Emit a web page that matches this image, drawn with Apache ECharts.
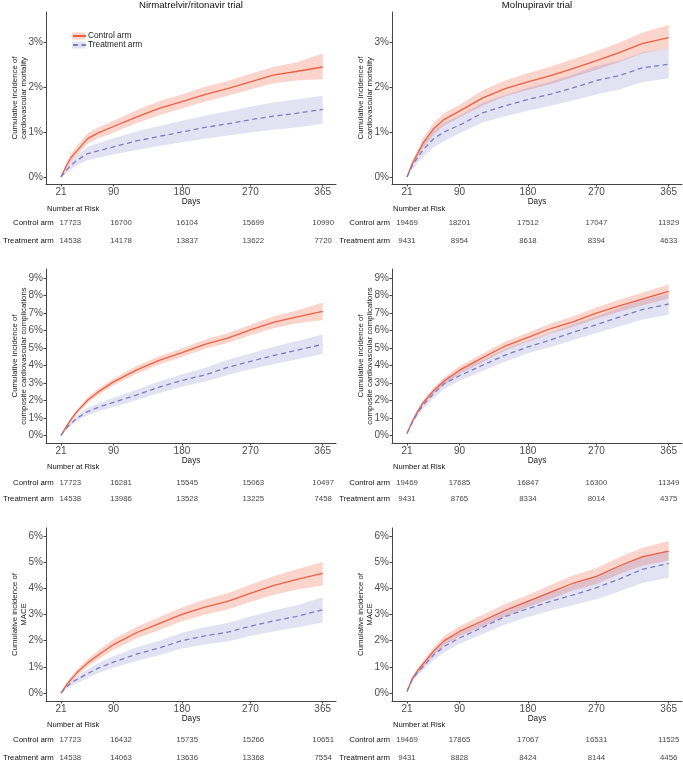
<!DOCTYPE html>
<html>
<head>
<meta charset="utf-8">
<script src="https://cdn.jsdelivr.net/npm/echarts@6/dist/echarts.min.js"></script>
<style>
html,body{margin:0;padding:0;background:#fff;}
#chart{width:683px;height:768px;}
</style>
</head>
<body>
<div id="chart"></div>
<script>
// ---------- data ----------
const days = [21, 28, 35, 42, 56, 70, 90, 120, 150, 180, 210, 240, 270, 300, 330, 365];
const xTicks = [21, 90, 180, 270, 365];
const riskDays = [21, 90, 180, 270, 365];
const yTicksCvm = [0, 1, 2, 3];
const yTicksComp = [0, 1, 2, 3, 4, 5, 6, 7, 8, 9];
const yTicksMace = [0, 1, 2, 3, 4, 5, 6];
const armNames = ['Control arm', 'Treatment arm'];
const trialTitles = ['Nirmatrelvir/ritonavir trial', 'Molnupiravir trial'];

// Nirmatrelvir/ritonavir — cardiovascular mortality (%)
const nirCvmCtrl   = [0, 0.25, 0.45, 0.58, 0.85, 0.98, 1.12, 1.33, 1.52, 1.67, 1.83, 1.96, 2.11, 2.26, 2.34, 2.44];
const nirCvmCtrlLo = [0, 0.18, 0.36, 0.48, 0.74, 0.86, 0.99, 1.19, 1.37, 1.52, 1.67, 1.80, 1.94, 2.08, 2.14, 2.17];
const nirCvmCtrlHi = [0, 0.32, 0.54, 0.69, 0.97, 1.10, 1.25, 1.48, 1.68, 1.83, 2.00, 2.13, 2.29, 2.44, 2.54, 2.74];
const nirCvmTrt    = [0, 0.15, 0.27, 0.37, 0.52, 0.58, 0.67, 0.80, 0.90, 1.00, 1.10, 1.18, 1.27, 1.35, 1.41, 1.50];
const nirCvmTrtLo  = [0, 0.08, 0.18, 0.26, 0.38, 0.43, 0.50, 0.60, 0.69, 0.77, 0.85, 0.92, 0.99, 1.05, 1.10, 1.18];
const nirCvmTrtHi  = [0, 0.22, 0.37, 0.49, 0.67, 0.75, 0.86, 1.01, 1.13, 1.25, 1.36, 1.46, 1.56, 1.65, 1.72, 1.80];

// Molnupiravir — cardiovascular mortality (%)
const molCvmCtrl   = [0, 0.30, 0.52, 0.75, 1.07, 1.28, 1.46, 1.75, 1.96, 2.11, 2.25, 2.41, 2.58, 2.76, 2.96, 3.09];
const molCvmCtrlLo = [0, 0.24, 0.44, 0.64, 0.94, 1.14, 1.32, 1.58, 1.79, 1.93, 2.06, 2.22, 2.38, 2.55, 2.74, 2.85];
const molCvmCtrlHi = [0, 0.36, 0.60, 0.86, 1.20, 1.42, 1.60, 1.92, 2.14, 2.30, 2.45, 2.62, 2.79, 2.98, 3.20, 3.37];
const molCvmTrt    = [0, 0.25, 0.43, 0.60, 0.85, 1.00, 1.15, 1.42, 1.58, 1.72, 1.84, 1.98, 2.14, 2.25, 2.42, 2.50];
const molCvmTrtLo  = [0, 0.17, 0.31, 0.44, 0.66, 0.80, 0.97, 1.21, 1.35, 1.47, 1.58, 1.70, 1.83, 1.94, 2.10, 2.19];
const molCvmTrtHi  = [0, 0.33, 0.55, 0.76, 1.04, 1.21, 1.36, 1.64, 1.82, 1.98, 2.12, 2.28, 2.46, 2.58, 2.76, 2.85];

// Nirmatrelvir/ritonavir — composite cardiovascular complications (%)
const nirCompCtrl   = [0, 0.50, 0.95, 1.35, 2.00, 2.48, 3.05, 3.72, 4.28, 4.72, 5.20, 5.55, 6.02, 6.45, 6.75, 7.08];
const nirCompCtrlLo = [0, 0.42, 0.84, 1.22, 1.84, 2.30, 2.86, 3.50, 4.05, 4.48, 4.94, 5.27, 5.72, 6.12, 6.38, 6.58];
const nirCompCtrlHi = [0, 0.58, 1.06, 1.48, 2.16, 2.66, 3.24, 3.94, 4.51, 4.96, 5.46, 5.83, 6.32, 6.78, 7.12, 7.58];
const nirCompTrt    = [0, 0.40, 0.72, 0.98, 1.35, 1.60, 1.88, 2.30, 2.75, 3.13, 3.45, 3.88, 4.22, 4.55, 4.85, 5.20];
const nirCompTrtLo  = [0, 0.30, 0.58, 0.81, 1.14, 1.37, 1.62, 2.00, 2.42, 2.77, 3.06, 3.45, 3.77, 4.06, 4.33, 4.64];
const nirCompTrtHi  = [0, 0.50, 0.86, 1.15, 1.56, 1.83, 2.14, 2.60, 3.08, 3.49, 3.84, 4.31, 4.67, 5.04, 5.37, 5.76];

// Molnupiravir — composite cardiovascular complications (%)
const molCompCtrl   = [0.10, 0.80, 1.35, 1.85, 2.55, 3.10, 3.72, 4.42, 5.10, 5.60, 6.10, 6.50, 6.98, 7.40, 7.78, 8.22];
const molCompCtrlLo = [0.10, 0.72, 1.25, 1.72, 2.38, 2.90, 3.50, 4.18, 4.84, 5.34, 5.82, 6.20, 6.66, 7.06, 7.42, 7.82];
const molCompCtrlHi = [0.10, 0.88, 1.45, 1.98, 2.72, 3.30, 3.94, 4.66, 5.36, 5.86, 6.38, 6.80, 7.30, 7.74, 8.14, 8.62];
const molCompTrt    = [0.10, 0.75, 1.28, 1.72, 2.38, 2.95, 3.40, 4.00, 4.58, 5.05, 5.45, 5.90, 6.32, 6.75, 7.18, 7.50];
const molCompTrtLo  = [0.10, 0.62, 1.10, 1.50, 2.12, 2.65, 3.12, 3.68, 4.20, 4.68, 5.04, 5.44, 5.84, 6.22, 6.60, 6.90];
const molCompTrtHi  = [0.10, 0.88, 1.46, 1.94, 2.64, 3.25, 3.68, 4.32, 4.96, 5.42, 5.86, 6.36, 6.80, 7.28, 7.76, 8.08];

// Nirmatrelvir/ritonavir — MACE (%)
const nirMaceCtrl   = [0, 0.30, 0.55, 0.78, 1.15, 1.45, 1.85, 2.30, 2.65, 3.00, 3.28, 3.50, 3.80, 4.10, 4.33, 4.57];
const nirMaceCtrlLo = [0, 0.22, 0.45, 0.66, 1.00, 1.28, 1.65, 2.08, 2.41, 2.74, 2.99, 3.19, 3.47, 3.74, 3.94, 4.10];
const nirMaceCtrlHi = [0, 0.38, 0.65, 0.90, 1.30, 1.62, 2.05, 2.52, 2.89, 3.26, 3.57, 3.81, 4.13, 4.46, 4.72, 5.00];
const nirMaceTrt    = [0, 0.22, 0.40, 0.52, 0.74, 0.95, 1.18, 1.48, 1.72, 2.00, 2.18, 2.32, 2.55, 2.75, 2.92, 3.18];
const nirMaceTrtLo  = [0, 0.14, 0.29, 0.38, 0.57, 0.76, 0.96, 1.22, 1.44, 1.70, 1.85, 1.97, 2.18, 2.35, 2.50, 2.69];
const nirMaceTrtHi  = [0, 0.30, 0.51, 0.66, 0.91, 1.14, 1.40, 1.74, 2.00, 2.30, 2.51, 2.67, 2.92, 3.15, 3.34, 3.66];

// Molnupiravir — MACE (%)
const molMaceCtrl   = [0.06, 0.55, 0.85, 1.10, 1.60, 2.00, 2.35, 2.75, 3.15, 3.50, 3.85, 4.20, 4.45, 4.85, 5.20, 5.42];
const molMaceCtrlLo = [0.06, 0.47, 0.74, 0.98, 1.45, 1.82, 2.17, 2.54, 2.92, 3.28, 3.60, 3.92, 4.16, 4.54, 4.86, 5.06];
const molMaceCtrlHi = [0.06, 0.63, 0.96, 1.22, 1.75, 2.18, 2.55, 2.98, 3.40, 3.74, 4.12, 4.50, 4.76, 5.18, 5.54, 5.80];
const molMaceTrt    = [0.06, 0.52, 0.80, 1.00, 1.45, 1.78, 2.10, 2.50, 2.92, 3.22, 3.50, 3.75, 4.02, 4.35, 4.72, 4.95];
const molMaceTrtLo  = [0.06, 0.44, 0.68, 0.85, 1.26, 1.56, 1.88, 2.24, 2.62, 2.90, 3.15, 3.36, 3.58, 3.88, 4.20, 4.40];
const molMaceTrtHi  = [0.06, 0.60, 0.92, 1.15, 1.64, 2.00, 2.32, 2.76, 3.22, 3.54, 3.85, 4.14, 4.46, 4.82, 5.24, 5.42];

// Number at risk
const nirCvmRiskCtrl  = [17723, 16700, 16104, 15699, 10990];
const nirCvmRiskTrt   = [14538, 14178, 13837, 13622, 7720];
const molCvmRiskCtrl  = [19469, 18201, 17512, 17047, 11929];
const molCvmRiskTrt   = [9431, 8954, 8618, 8394, 4633];
const nirCompRiskCtrl = [17723, 16281, 15545, 15063, 10497];
const nirCompRiskTrt  = [14538, 13986, 13528, 13225, 7458];
const molCompRiskCtrl = [19469, 17685, 16847, 16300, 11349];
const molCompRiskTrt  = [9431, 8765, 8334, 8014, 4375];
const nirMaceRiskCtrl = [17723, 16432, 15735, 15266, 10651];
const nirMaceRiskTrt  = [14538, 14063, 13636, 13368, 7554];
const molMaceRiskCtrl = [19469, 17865, 17067, 16531, 11525];
const molMaceRiskTrt  = [9431, 8828, 8424, 8144, 4456];

// ---------- layout / style ----------
const FONT = 'Liberation Sans, Arial, Helvetica, sans-serif';
const CTRL_LINE = '#EE5F40';
const TRT_LINE = '#7C7CCC';
const CTRL_BAND = 'rgba(240, 96, 64, 0.27)';
const TRT_BAND = 'rgba(120, 120, 200, 0.21)';
const X_MIN = 1.3, X_MAX = 382.5;

const rows = [
  { top: 12, height: 172, yMin: -0.155, yMax: 3.66, ticks: yTicksCvm, riskTop: 214, riskH: 36, narY: 209,
    name: 'Cumulative incidence of\ncardiovascular mortality' },
  { top: 269, height: 174, yMin: -0.44, yMax: 9.5, ticks: yTicksComp, riskTop: 474.4, riskH: 33.2, narY: 467,
    name: 'Cumulative incidence of\ncomposite cardiovascular complications' },
  { top: 528, height: 173, yMin: -0.305, yMax: 6.30, ticks: yTicksMace, riskTop: 731.6, riskH: 34.8, narY: 725.7,
    name: 'Cumulative incidence of\nMACE' }
];
const cols = [{ left: 46, width: 290 }, { left: 392, width: 290 }];

const panels = [
  { r: 0, c: 0, ctrl: nirCvmCtrl, ctrlLo: nirCvmCtrlLo, ctrlHi: nirCvmCtrlHi, trt: nirCvmTrt, trtLo: nirCvmTrtLo, trtHi: nirCvmTrtHi, riskC: nirCvmRiskCtrl, riskT: nirCvmRiskTrt },
  { r: 0, c: 1, ctrl: molCvmCtrl, ctrlLo: molCvmCtrlLo, ctrlHi: molCvmCtrlHi, trt: molCvmTrt, trtLo: molCvmTrtLo, trtHi: molCvmTrtHi, riskC: molCvmRiskCtrl, riskT: molCvmRiskTrt },
  { r: 1, c: 0, ctrl: nirCompCtrl, ctrlLo: nirCompCtrlLo, ctrlHi: nirCompCtrlHi, trt: nirCompTrt, trtLo: nirCompTrtLo, trtHi: nirCompTrtHi, riskC: nirCompRiskCtrl, riskT: nirCompRiskTrt },
  { r: 1, c: 1, ctrl: molCompCtrl, ctrlLo: molCompCtrlLo, ctrlHi: molCompCtrlHi, trt: molCompTrt, trtLo: molCompTrtLo, trtHi: molCompTrtHi, riskC: molCompRiskCtrl, riskT: molCompRiskTrt },
  { r: 2, c: 0, ctrl: nirMaceCtrl, ctrlLo: nirMaceCtrlLo, ctrlHi: nirMaceCtrlHi, trt: nirMaceTrt, trtLo: nirMaceTrtLo, trtHi: nirMaceTrtHi, riskC: nirMaceRiskCtrl, riskT: nirMaceRiskTrt },
  { r: 2, c: 1, ctrl: molMaceCtrl, ctrlLo: molMaceCtrlLo, ctrlHi: molMaceCtrlHi, trt: molMaceTrt, trtLo: molMaceTrtLo, trtHi: molMaceTrtHi, riskC: molMaceRiskCtrl, riskT: molMaceRiskTrt }
];

const grid = [], xAxis = [], yAxis = [], series = [], graphic = [];

function bandRender(color) {
  return function (params, api) {
    if (params.dataIndexInside !== 0) return null;
    const n = params.dataInsideLength;
    const pts = [];
    for (let j = 0; j < n; j++) pts.push(api.coord([api.value(0, j), api.value(2, j)]));
    for (let j = n - 1; j >= 0; j--) pts.push(api.coord([api.value(0, j), api.value(1, j)]));
    return { type: 'polygon', shape: { points: pts }, style: { fill: color }, silent: true };
  };
}

panels.forEach((p, i) => {
  const row = rows[p.r], col = cols[p.c];
  grid.push({ left: col.left, top: row.top, width: col.width, height: row.height, containLabel: false });
  xAxis.push({
    gridIndex: i, type: 'value', min: X_MIN, max: X_MAX,
    name: 'Days', nameLocation: 'middle', nameGap: 14, nameMoveOverlap: false,
    nameTextStyle: { fontFamily: FONT, fontSize: 8.2, color: '#1a1a1a' },
    axisLine: { show: true, onZero: false, lineStyle: { color: '#444', width: 1 } },
    axisTick: { show: true, length: 2.5, customValues: xTicks, lineStyle: { color: '#444' } },
    axisLabel: { customValues: xTicks, fontFamily: FONT, fontSize: 10, color: '#4d4d4d', margin: 3 },
    splitLine: { show: false }
  });
  yAxis.push({
    gridIndex: i, type: 'value', min: row.yMin, max: row.yMax,
    name: row.name, nameLocation: 'middle', nameGap: 18, nameMoveOverlap: false,
    nameTextStyle: { fontFamily: FONT, fontSize: 7.8, color: '#1a1a1a', lineHeight: 8.5 },
    axisLine: { show: true, lineStyle: { color: '#444', width: 1 } },
    axisTick: { show: true, length: 2.5, customValues: row.ticks, lineStyle: { color: '#444' } },
    axisLabel: { customValues: row.ticks, formatter: v => v + '%', fontFamily: FONT, fontSize: 10, color: '#4d4d4d', margin: 3 },
    splitLine: { show: false }
  });
  const band = (name, lo, hi, color) => ({
    name, type: 'custom', xAxisIndex: i, yAxisIndex: i, z: 1,
    itemStyle: { color },
    encode: { x: 0, y: [1, 2] },
    data: days.map((d, k) => [d, lo[k], hi[k]]),
    renderItem: bandRender(color), silent: true
  });
  series.push(band('Control arm CI', p.ctrlLo, p.ctrlHi, CTRL_BAND));
  series.push(band('Treatment arm CI', p.trtLo, p.trtHi, TRT_BAND));
  series.push({
    name: armNames[0], type: 'line', xAxisIndex: i, yAxisIndex: i, z: 3,
    showSymbol: false, symbol: 'none', color: CTRL_LINE,
    lineStyle: { color: CTRL_LINE, width: 1.3 },
    data: days.map((d, k) => [d, p.ctrl[k]]), silent: true
  });
  series.push({
    name: armNames[1], type: 'line', xAxisIndex: i, yAxisIndex: i, z: 4,
    showSymbol: false, symbol: 'none', color: TRT_LINE,
    lineStyle: { color: TRT_LINE, width: 1.3, type: [5, 3.5] },
    data: days.map((d, k) => [d, p.trt[k]]), silent: true
  });
});

// risk tables
panels.forEach((p, i) => {
  const row = rows[p.r], col = cols[p.c];
  const gi = panels.length + i;
  grid.push({ left: col.left, top: row.riskTop, width: col.width, height: row.riskH, containLabel: false });
  xAxis.push({ gridIndex: gi, type: 'value', min: X_MIN, max: X_MAX, show: false });
  yAxis.push({
    gridIndex: gi, type: 'category', data: [armNames[1], armNames[0]],
    axisLine: { show: false }, axisTick: { show: false }, splitLine: { show: false },
    axisLabel: { fontFamily: FONT, fontSize: 7.8, color: '#111', margin: 2 }
  });
  const pts = [];
  riskDays.forEach((d, k) => {
    pts.push({ value: [d, armNames[0], p.riskC[k]] });
    pts.push({ value: [d, armNames[1], p.riskT[k]] });
  });
  series.push({
    type: 'scatter', xAxisIndex: gi, yAxisIndex: gi, symbolSize: 1,
    itemStyle: { color: 'rgba(0,0,0,0)' }, silent: true,
    label: { show: true, position: 'inside', formatter: q => String(q.value[2]),
             fontFamily: FONT, fontSize: 7.8, color: '#111' },
    data: pts
  });
  graphic.push({
    type: 'text', left: col.left + 1, top: row.narY - 4.5,
    style: { text: 'Number at Risk', font: '7.6px ' + FONT, fill: '#111' }
  });
});

// panel titles
cols.forEach((col, c) => {
  graphic.push({
    type: 'text', x: col.left + col.width / 2, y: 0.5,
    style: { text: trialTitles[c], font: '9.6px ' + FONT, fill: '#111', align: 'center', verticalAlign: 'top' }
  });
});

const option = {
  animation: false,
  backgroundColor: '#fff',
  grid, xAxis, yAxis, series, graphic,
  legend: [
    {
      z: 1, left: 72, top: 32, orient: 'vertical', padding: 0, itemGap: 1,
      itemWidth: 13, itemHeight: 7, icon: 'rect', selectedMode: false,
      data: ['Control arm CI', 'Treatment arm CI'],
      textStyle: { fontFamily: FONT, fontSize: 8.3, color: 'rgba(0,0,0,0)' }
    },
    {
      z: 5, left: 72, top: 32, orient: 'vertical', padding: 0, itemGap: 1,
      itemWidth: 13, itemHeight: 7, selectedMode: false,
      itemStyle: { opacity: 0 },
      data: armNames,
      textStyle: { fontFamily: FONT, fontSize: 8.3, color: '#222', padding: [0, 0, 0, -3] }
    }
  ]
};

const chart = echarts.init(document.getElementById('chart'), null, { renderer: 'canvas' });
chart.setOption(option);
</script>
</body>
</html>
